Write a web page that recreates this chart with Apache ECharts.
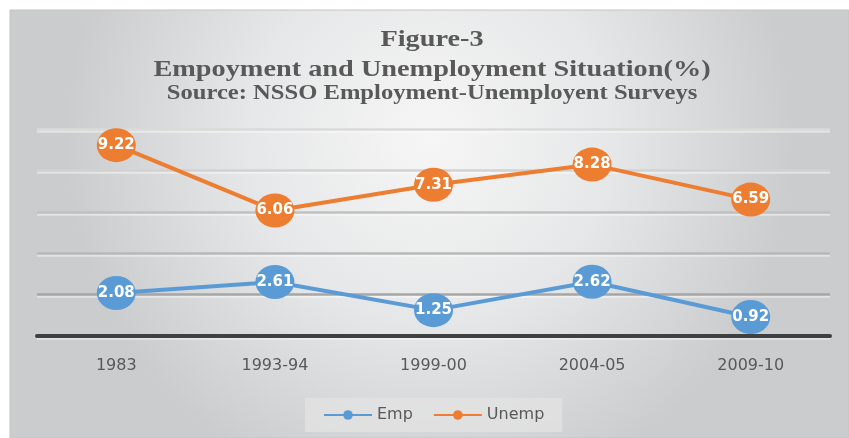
<!DOCTYPE html>
<html>
<head>
<meta charset="utf-8">
<script src="https://cdn.jsdelivr.net/npm/echarts@6/dist/echarts.min.js"></script>
<style>
  html, body { margin: 0; padding: 0; background: #ffffff; }
  #chart { width: 849px; height: 438px; }
</style>
</head>
<body>
<div id="chart"></div>
<script>
// Survey rounds and rates (%)
const categories = ['1983', '1993-94', '1999-00', '2004-05', '2009-10'];
const empValues = [2.08, 2.61, 1.25, 2.62, 0.92];
const unempValues = [9.22, 6.06, 7.31, 8.28, 6.59];
const titleLines = ['Figure-3', 'Empoyment and Unemployment Situation(%)', 'Source: NSSO Employment-Unemployent Surveys'];

const chart = echarts.init(document.getElementById('chart'), null, { renderer: 'canvas' });

const textGray = '#595959';
const serif = 'Liberation Serif';
const sans = 'DejaVu Sans';

function makeSeries(name, data, color) {
  return {
    name: name,
    type: 'line',
    data: data,
    symbol: 'circle',
    symbolSize: [39, 34],
    lineStyle: { color: color, width: 4 },
    itemStyle: { color: color },
    label: {
      show: true,
      position: 'inside',
      color: '#ffffff',
      fontWeight: 'bold',
      fontSize: 15,
      fontFamily: sans
    },
    emphasis: { disabled: true },
    animation: false
  };
}

// Wide, bold serif heading lines (y is the vertical centre of the line)
function titleText(text, centerY, size) {
  return {
    type: 'text',
    x: 432,
    y: centerY,
    scaleX: 1.23,
    style: {
      text: text,
      fill: textGray,
      font: 'bold ' + size + 'px "' + serif + '"',
      align: 'center',
      verticalAlign: 'middle'
    },
    silent: true,
    z: 10
  };
}

chart.setOption({
  animation: false,
  graphic: [
    {
      type: 'rect',
      shape: { x: 10, y: 10, width: 839, height: 428 },
      style: {
        fill: new echarts.graphic.RadialGradient(0.5, 0.3, 0.85, [
          { offset: 0, color: '#f6f6f6' },
          { offset: 0.5, color: '#e6e7e8' },
          { offset: 1, color: '#cbcccd' }
        ]),
        stroke: '#c4c4c4',
        lineWidth: 1
      },
      z: -10,
      silent: true
    },
    titleText(titleLines[0], 40, 23),
    titleText(titleLines[1], 70, 23),
    titleText(titleLines[2], 94, 20)
  ],
  legend: {
    data: ['Emp', 'Unemp'],
    bottom: 6,
    left: 305,
    itemWidth: 48,
    itemHeight: 12,
    itemGap: 20,
    padding: [9, 18, 9, 18],
    backgroundColor: 'rgba(228,228,228,0.7)',
    textStyle: { color: textGray, fontSize: 16, fontFamily: sans }
  },
  grid: { left: 37, right: 19, top: 129, bottom: 102 },
  xAxis: {
    type: 'category',
    data: categories,
    boundaryGap: true,
    axisLine: { show: true, lineStyle: { color: '#404040', width: 4 } },
    axisTick: { show: false },
    axisLabel: { color: textGray, fontSize: 16, fontFamily: sans, margin: 22 }
  },
  yAxis: {
    type: 'value',
    min: 0,
    max: 10,
    interval: 2,
    axisLabel: { show: false },
    axisLine: { show: false },
    axisTick: { show: false },
    splitLine: {
      show: true,
      lineStyle: {
        color: ['#404040', '#a6a6a6', '#b8b8b8', '#c0c0c0', '#d2d2d2', '#dadada'],
        width: 2.5,
        shadowColor: 'rgba(255,255,255,0.45)',
        shadowOffsetY: 2
      }
    }
  },
  series: [
    makeSeries('Emp', empValues, '#5b9bd5'),
    makeSeries('Unemp', unempValues, '#ed7d31')
  ]
});
</script>
</body>
</html>
